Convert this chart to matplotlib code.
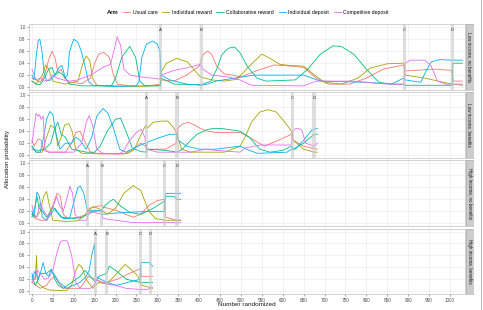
#!/usr/bin/env python3
import matplotlib
matplotlib.use("Agg")
import matplotlib.pyplot as plt
from matplotlib.lines import Line2D

# Arms and colours (ggplot hue palette)
arms = ["Usual care", "Individual reward", "Collaborative reward",
        "Individual deposit", "Competitive deposit"]
arm_colors = ["#F8766D", "#A3A500", "#00BF7D", "#00B0F6", "#E76BF3"]

strata = ["Low income, no benefits", "Low income, benefits",
          "High income, no benefits", "High income, benefits"]

event_labels = ["A", "B", "C", "D"]
events_p1 = [307, 405, 891, 1006]
events_p2 = [274, 347, 623, 675]
events_p3 = [133, 167, 317, 347]
events_p4 = [152, 179, 259, 284]

# ---- Low income, no benefits: (number randomized, allocation probability)
p1_usual = [(0, 0.15), (10, 0.12), (20, 0.08), (30, 0.2), (40, 0.45), (48, 0.6), (55, 0.5),
            (62, 0.25), (70, 0.3), (78, 0.15), (90, 0.08), (120, 0.06), (140, 0.15),
            (150, 0.4), (160, 0.55), (172, 0.58), (185, 0.5), (195, 0.2), (205, 0.05),
            (230, 0.02), (280, 0.02), (307, 0.05), (309, 0.12), (340, 0.1), (370, 0.2),
            (400, 0.35), (410, 0.55), (420, 0.6), (430, 0.55), (442, 0.35), (460, 0.22),
            (480, 0.2), (500, 0.17), (540, 0.28), (580, 0.37), (620, 0.35), (650, 0.33),
            (680, 0.15), (710, 0.05), (760, 0.05), (800, 0.15), (840, 0.3), (889, 0.37),
            (893, 0.27), (920, 0.28), (960, 0.3), (1004, 0.28), (1008, 0.1), (1030, 0.1)]
p1_ind_reward = [(0, 0.1), (10, 0.05), (25, 0.2), (33, 0.37), (40, 0.3), (50, 0.1), (80, 0.05),
                 (110, 0.1), (122, 0.4), (130, 0.52), (138, 0.45), (145, 0.15), (155, 0.03),
                 (250, 0.01), (307, 0.03), (309, 0.25), (322, 0.4), (347, 0.48), (372, 0.42),
                 (403, 0.17), (430, 0.12), (460, 0.1), (490, 0.13), (520, 0.35), (550, 0.55),
                 (570, 0.48), (593, 0.38), (620, 0.36), (650, 0.35), (680, 0.18), (700, 0.08),
                 (740, 0.05), (780, 0.15), (810, 0.32), (850, 0.39), (889, 0.4), (893, 0.2),
                 (940, 0.15), (1004, 0.05), (1030, 0.03)]
p1_col_reward = [(0, 0.1), (10, 0.05), (20, 0.04), (30, 0.15), (40, 0.3), (48, 0.33), (55, 0.2),
                 (65, 0.25), (75, 0.2), (90, 0.05), (120, 0.02), (190, 0.02), (200, 0.15),
                 (215, 0.5), (234, 0.68), (248, 0.5), (258, 0.1), (270, 0.02), (307, 0.02),
                 (309, 0.15), (340, 0.05), (405, 0.04), (428, 0.1), (442, 0.3), (455, 0.55),
                 (470, 0.65), (485, 0.67), (498, 0.57), (515, 0.35), (538, 0.15), (560, 0.1),
                 (630, 0.12), (660, 0.3), (690, 0.55), (720, 0.69), (740, 0.68), (770, 0.55),
                 (800, 0.3), (830, 0.08), (860, 0.05), (889, 0.05), (893, 0.03), (1005, 0.03),
                 (1007, 0.4), (1030, 0.4)]
p1_ind_deposit = [(0, 0.2), (5, 0.12), (10, 0.5), (15, 0.78), (19, 0.8), (24, 0.6), (29, 0.25),
                  (35, 0.1), (45, 0.12), (55, 0.2), (65, 0.33), (72, 0.36), (80, 0.15), (85, 0.2),
                  (90, 0.6), (100, 0.8), (110, 0.75), (118, 0.6), (127, 0.35), (135, 0.1),
                  (145, 0.03), (200, 0.01), (250, 0.02), (256, 0.1), (263, 0.5), (274, 0.72),
                  (289, 0.77), (300, 0.72), (306, 0.6), (309, 0.2), (330, 0.12), (370, 0.05),
                  (405, 0.03), (420, 0.05), (440, 0.1), (530, 0.2), (600, 0.2), (650, 0.2),
                  (690, 0.1), (800, 0.08), (860, 0.05), (889, 0.15), (893, 0.12), (930, 0.08),
                  (945, 0.3), (955, 0.42), (975, 0.46), (1005, 0.45), (1030, 0.45)]
p1_comp_deposit = [(0, 0.3), (5, 0.2), (10, 0.12), (20, 0.15), (30, 0.1), (40, 0.12), (50, 0.2),
                   (60, 0.15), (75, 0.12), (90, 0.1), (110, 0.12), (140, 0.2), (170, 0.33),
                   (188, 0.38), (196, 0.6), (204, 0.84), (212, 0.7), (220, 0.3), (235, 0.2),
                   (260, 0.17), (300, 0.14), (307, 0.13), (309, 0.2), (340, 0.28), (370, 0.32),
                   (403, 0.38), (409, 0.3), (430, 0.2), (470, 0.17), (498, 0.12), (525, 0.03),
                   (650, 0.02), (680, 0.1), (770, 0.1), (830, 0.06), (889, 0.04), (893, 0.4),
                   (905, 0.45), (940, 0.45), (955, 0.35), (970, 0.1), (990, 0.05), (1030, 0.05)]

# ---- Low income, benefits
p2_usual = [(0, 0.25), (5, 0.15), (15, 0.27), (22, 0.25), (28, 0.08), (40, 0.05), (80, 0.05),
            (95, 0.2), (105, 0.38), (115, 0.4), (125, 0.25), (140, 0.05), (160, 0.02),
            (220, 0.02), (240, 0.08), (260, 0.2), (272, 0.15), (276, 0.1), (320, 0.1),
            (345, 0.2), (349, 0.45), (360, 0.52), (374, 0.55), (390, 0.5), (402, 0.45),
            (420, 0.4), (440, 0.38), (498, 0.38), (520, 0.3), (556, 0.15), (590, 0.25),
            (621, 0.35), (625, 0.25), (650, 0.15), (683, 0.1)]
p2_ind_reward = [(0, 0.15), (10, 0.05), (25, 0.05), (35, 0.3), (45, 0.5), (55, 0.45), (62, 0.15),
                 (70, 0.3), (78, 0.5), (88, 0.53), (96, 0.4), (105, 0.1), (120, 0.03),
                 (230, 0.03), (245, 0.1), (258, 0.3), (272, 0.5), (276, 0.45), (290, 0.55),
                 (310, 0.57), (325, 0.57), (340, 0.45), (347, 0.35), (358, 0.1), (380, 0.05),
                 (460, 0.05), (498, 0.15), (510, 0.3), (525, 0.55), (545, 0.72), (565, 0.76),
                 (585, 0.72), (605, 0.55), (621, 0.4), (625, 0.25), (650, 0.1), (675, 0.05),
                 (683, 0.05)]
p2_col_reward = [(0, 0.1), (15, 0.08), (30, 0.1), (45, 0.2), (55, 0.45), (62, 0.55), (70, 0.35),
                 (80, 0.3), (95, 0.1), (130, 0.05), (150, 0.05), (163, 0.15), (180, 0.4),
                 (200, 0.6), (212, 0.62), (225, 0.4), (240, 0.12), (260, 0.06), (274, 0.05),
                 (277, 0.1), (320, 0.08), (347, 0.05), (360, 0.1), (380, 0.25), (395, 0.35),
                 (420, 0.43), (440, 0.45), (460, 0.44), (498, 0.4), (520, 0.3), (545, 0.1),
                 (570, 0.05), (600, 0.08), (621, 0.15), (625, 0.1), (650, 0.2), (675, 0.35),
                 (683, 0.35)]
p2_ind_deposit = [(0, 0.15), (10, 0.05), (20, 0.05), (28, 0.3), (35, 0.6), (43, 0.73), (50, 0.68),
                  (58, 0.35), (67, 0.1), (80, 0.2), (95, 0.2), (105, 0.3), (115, 0.25),
                  (130, 0.1), (143, 0.3), (155, 0.65), (170, 0.78), (182, 0.7), (195, 0.45),
                  (210, 0.1), (225, 0.05), (245, 0.12), (270, 0.2), (274, 0.15), (277, 0.22),
                  (300, 0.28), (330, 0.35), (347, 0.35), (350, 0.25), (370, 0.15), (402, 0.1),
                  (440, 0.1), (498, 0.15), (520, 0.08), (540, 0.03), (610, 0.05), (621, 0.1),
                  (630, 0.1), (650, 0.25), (670, 0.42), (683, 0.45)]
p2_comp_deposit = [(0, 0.2), (5, 0.45), (10, 0.7), (15, 0.65), (18, 0.68), (22, 0.6), (27, 0.65),
                   (31, 0.1), (40, 0.05), (100, 0.05), (119, 0.2), (130, 0.55), (137, 0.66),
                   (145, 0.5), (155, 0.1), (170, 0.03), (210, 0.02), (220, 0.08), (234, 0.25),
                   (250, 0.38), (262, 0.43), (270, 0.3), (274, 0.1), (300, 0.05), (380, 0.05),
                   (400, 0.08), (418, 0.1), (440, 0.08), (498, 0.05), (510, 0.12), (546, 0.17),
                   (620, 0.17), (624, 0.4), (632, 0.45), (645, 0.43), (655, 0.2), (675, 0.15),
                   (683, 0.2)]

# ---- High income, no benefits
p3_usual = [(0, 0.15), (8, 0.08), (20, 0.05), (35, 0.05), (50, 0.3), (60, 0.5), (68, 0.45),
            (75, 0.15), (85, 0.08), (110, 0.1), (133, 0.15), (137, 0.25), (167, 0.3),
            (170, 0.27), (200, 0.22), (242, 0.1), (260, 0.15), (280, 0.3), (300, 0.38),
            (317, 0.4), (320, 0.1), (347, 0.05), (356, 0.05)]
p3_ind_reward = [(0, 0.15), (10, 0.1), (20, 0.2), (28, 0.45), (35, 0.53), (42, 0.3), (50, 0.05),
                 (80, 0.03), (110, 0.04), (125, 0.12), (133, 0.2), (147, 0.28), (167, 0.22),
                 (180, 0.15), (200, 0.25), (220, 0.5), (242, 0.63), (260, 0.55), (280, 0.2),
                 (295, 0.08), (317, 0.05), (356, 0.05)]
p3_col_reward = [(0, 0.1), (8, 0.3), (12, 0.45), (17, 0.25), (25, 0.2), (35, 0.1), (45, 0.2),
                 (50, 0.27), (58, 0.2), (70, 0.1), (100, 0.08), (120, 0.1), (133, 0.15),
                 (150, 0.2), (167, 0.22), (175, 0.3), (187, 0.37), (195, 0.4), (210, 0.3),
                 (234, 0.18), (260, 0.15), (290, 0.25), (317, 0.37), (320, 0.45), (340, 0.45),
                 (347, 0.4), (356, 0.4)]
p3_ind_deposit = [(0, 0.2), (5, 0.1), (12, 0.52), (18, 0.45), (25, 0.1), (35, 0.05), (45, 0.15),
                  (55, 0.25), (65, 0.15), (75, 0.08), (90, 0.08), (100, 0.35), (110, 0.6),
                  (116, 0.62), (124, 0.5), (133, 0.2), (150, 0.22), (167, 0.2), (170, 0.15),
                  (200, 0.17), (250, 0.19), (317, 0.2), (320, 0.5), (356, 0.5)]
p3_comp_deposit = [(0, 0.3), (5, 0.15), (12, 0.1), (20, 0.35), (28, 0.2), (40, 0.1), (52, 0.3),
                   (59, 0.45), (66, 0.3), (75, 0.2), (85, 0.45), (91, 0.62), (97, 0.5),
                   (103, 0.15), (115, 0.05), (131, 0.05), (135, 0.15), (140, 0.2), (167, 0.15),
                   (170, 0.08), (200, 0.05), (242, 0.01), (356, 0.01)]

# ---- High income, benefits
p4_usual = [(0, 0.15), (10, 0.1), (20, 0.05), (35, 0.1), (45, 0.2), (55, 0.25), (63, 0.15),
            (75, 0.05), (115, 0.05), (135, 0.25), (152, 0.2), (165, 0.15), (179, 0.15),
            (203, 0.2), (234, 0.3), (259, 0.38), (262, 0.25), (289, 0.25)]
p4_ind_reward = [(0, 0.2), (8, 0.2), (11, 0.6), (13, 0.15), (20, 0.1), (30, 0.05), (43, 0.02),
                 (83, 0.01), (95, 0.1), (105, 0.35), (112, 0.45), (120, 0.4), (130, 0.2),
                 (145, 0.05), (152, 0.1), (160, 0.15), (179, 0.12), (203, 0.3), (223, 0.45),
                 (240, 0.35), (254, 0.25), (259, 0.15), (262, 0.1), (289, 0.05)]
p4_col_reward = [(0, 0.25), (8, 0.1), (15, 0.2), (20, 0.3), (35, 0.3), (47, 0.37), (55, 0.2),
                 (63, 0.1), (75, 0.05), (95, 0.15), (115, 0.25), (127, 0.35), (140, 0.25),
                 (152, 0.15), (160, 0.25), (179, 0.3), (185, 0.42), (200, 0.35), (226, 0.2),
                 (259, 0.15), (289, 0.15)]
p4_ind_deposit = [(0, 0.3), (3, 0.22), (6, 0.33), (10, 0.3), (15, 0.2), (22, 0.35), (27, 0.48),
                  (33, 0.3), (40, 0.25), (45, 0.35), (52, 0.3), (65, 0.15), (83, 0.05),
                  (100, 0.1), (115, 0.15), (130, 0.25), (137, 0.35), (143, 0.6), (150, 0.8),
                  (152, 0.25), (165, 0.2), (179, 0.15), (203, 0.1), (230, 0.15), (259, 0.2),
                  (261, 0.48), (280, 0.48), (289, 0.42)]
p4_comp_deposit = [(0, 0.15), (8, 0.25), (12, 0.35), (20, 0.3), (30, 0.2), (40, 0.22), (50, 0.35),
                   (60, 0.65), (68, 0.83), (75, 0.85), (85, 0.84), (95, 0.6), (105, 0.15),
                   (115, 0.05), (140, 0.05), (150, 0.12), (153, 0.2), (179, 0.12), (200, 0.1),
                   (225, 0.05), (259, 0.03), (275, 0.03), (289, 0.07)]

panels = [
    (strata[0], [p1_usual, p1_ind_reward, p1_col_reward, p1_ind_deposit, p1_comp_deposit], events_p1),
    (strata[1], [p2_usual, p2_ind_reward, p2_col_reward, p2_ind_deposit, p2_comp_deposit], events_p2),
    (strata[2], [p3_usual, p3_ind_reward, p3_col_reward, p3_ind_deposit, p3_comp_deposit], events_p3),
    (strata[3], [p4_usual, p4_ind_reward, p4_col_reward, p4_ind_deposit, p4_comp_deposit], events_p4),
]

W, H = 483, 310
fig = plt.figure(figsize=(W / 100, H / 100), dpi=100)
plt.rcParams["font.family"] = ["Liberation Sans", "DejaVu Sans"]

left, right = 29 / W, 465 / W
top_px, bot_px, gap_px = 24.3, 294.3, 2.3
ph = (bot_px - top_px - 3 * gap_px) / 4

for i, (name, series, events) in enumerate(panels):
    y0 = top_px + i * (ph + gap_px)
    ax = fig.add_axes([left, 1 - (y0 + ph) / H, right - left, ph / H])
    for pts, col in zip(series, arm_colors):
        xs = [p[0] for p in pts]
        ys = [p[1] for p in pts]
        ax.plot(xs, ys, color=col, lw=0.6, zorder=2)
    for ev, lab in zip(events, event_labels):
        ax.axvspan(ev - 4, ev + 4, color="#C8C8C8", alpha=0.6, lw=0, zorder=3)
        ax.text(ev, 0.955, lab, ha="center", va="center", fontsize=3.2,
                color="#333333", zorder=4)
    ax.set_xlim(-7, 1036)
    ax.set_ylim(-0.05, 1.05)
    ax.set_xticks(range(0, 1001, 50))
    ax.set_yticks([0, 0.2, 0.4, 0.6, 0.8, 1.0])
    ax.set_yticklabels(["0.0", "0.2", "0.4", "0.6", "0.8", "1.0"])
    ax.grid(True, color="#EBEBEB", lw=0.45, zorder=0)
    ax.set_axisbelow(True)
    for s in ax.spines.values():
        s.set_color("#C0C0C0")
        s.set_linewidth(0.5)
    ax.tick_params(labelsize=3.3, length=1.5, width=0.4, pad=1,
                   color="#555555", labelcolor="#4D4D4D")
    if i < 3:
        ax.tick_params(axis="x", bottom=False, labelbottom=False)

    # facet strip on the right
    sax = fig.add_axes([466 / W, 1 - (y0 + ph) / H, 6.5 / W, ph / H])
    sax.set_facecolor("#CCCCCC")
    sax.set_xticks([])
    sax.set_yticks([])
    for s in sax.spines.values():
        s.set_color("#A8A8A8")
        s.set_linewidth(0.4)
    sax.text(0.5, 0.5, name, rotation=270, ha="center", va="center",
             fontsize=3.3, color="#1A1A1A", transform=sax.transAxes)

# legend across the top
handles = [Line2D([], [], color=c, lw=0.6) for c in arm_colors]
fig.legend(handles, arms, loc="center", bbox_to_anchor=(256 / W, 1 - 12.7 / H),
           ncol=5, frameon=False, fontsize=3.7, handlelength=1.4,
           columnspacing=0.9, handletextpad=0.5, borderpad=0)
fig.text(113 / W, 1 - 12.7 / H, "Arm", fontsize=4.2, fontweight="bold",
         ha="center", va="center", color="#1A1A1A")

fig.text(247 / W, 1 - 305 / H, "Number randomized", ha="center", va="center",
         fontsize=4.6, color="#1A1A1A")
fig.text(8 / W, 1 - 159.3 / H, "Allocation probability", rotation=90,
         ha="center", va="center", fontsize=4.6, color="#1A1A1A")

# thin frame line at the right edge of the figure
fig.add_artist(Line2D([480.5 / W, 480.5 / W], [0, 1], color="#9A9A9A", lw=0.5))

fig.savefig("out.png", dpi=100)
